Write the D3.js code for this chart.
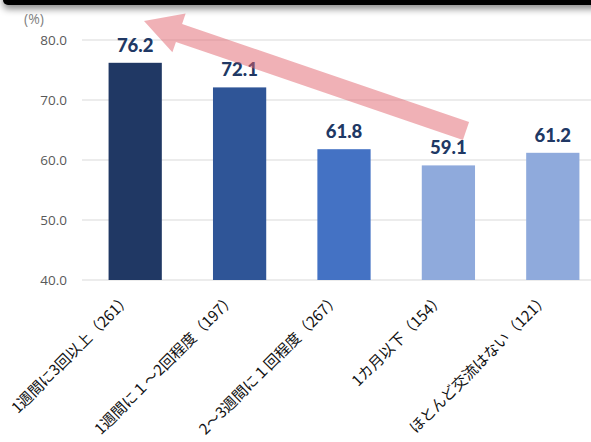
<!DOCTYPE html>
<html>
<head>
<meta charset="utf-8">
<script src="https://cdn.jsdelivr.net/npm/d3@7"></script>
<style>
  html, body { margin: 0; padding: 0; background: #fff; }
  svg { display: block; }
</style>
</head>
<body>
<svg id="chart" width="591" height="442"></svg>
<script>
// Interaction frequency groups (sample size in parentheses) and share (%)
const categories = [
  "1週間に3回以上（261）",
  "1週間に１～2回程度（197）",
  "2～3週間に１回程度（267）",
  "1カ月以下（154）",
  "ほとんど交流はない（121）"
];
const values = [76.2, 72.1, 61.8, 59.1, 61.2];
const barColors = ["#203864", "#2F5597", "#4472C4", "#8FAADC", "#8FAADC"];
const yTicks = [40, 50, 60, 70, 80];
const unitLabel = "(%)";

const svg = d3.select("#chart");
const W = 591, H = 442;

// Dark header strip with a soft shadow underneath
const defs = svg.append("defs");
const shadow = defs.append("filter").attr("id", "hdrShadow")
  .attr("x", "-5%").attr("y", "-50%").attr("width", "110%").attr("height", "300%");
shadow.append("feDropShadow").attr("dx", 0).attr("dy", 4).attr("stdDeviation", 3.5)
  .attr("flood-color", "#000").attr("flood-opacity", 0.45);

svg.append("rect")
  .attr("x", 3).attr("y", -12).attr("width", W + 20).attr("height", 17)
  .attr("rx", 5).attr("fill", "#000").attr("filter", "url(#hdrShadow)");

// Scales
const x = d3.scaleBand().domain(categories).range([83, 605]).paddingInner(0.49).paddingOuter(0.245);
const y = d3.scaleLinear().domain([40, 80]).range([280, 40]);

// Gridlines
svg.append("g").selectAll("line").data(yTicks).join("line")
  .attr("x1", 82).attr("x2", W)
  .attr("y1", d => y(d)).attr("y2", d => y(d))
  .attr("stroke", "#d9d9d9").attr("stroke-width", 1.2);

// Y axis tick labels
const yAxis = d3.axisLeft(y).tickValues(yTicks).tickFormat(d3.format(".1f")).tickSize(0).tickPadding(0);
const yg = svg.append("g").attr("transform", "translate(67,0)").call(yAxis);
yg.select(".domain").remove();
yg.selectAll("text")
  .attr("font-family", "'Open Sans', 'Noto Sans', sans-serif")
  .attr("font-size", 13.5).attr("fill", "#595959");

svg.append("text")
  .attr("x", 24).attr("y", 24)
  .attr("font-family", "'Open Sans', 'Noto Sans', sans-serif")
  .attr("font-size", 14).attr("fill", "#7f7f7f")
  .text(unitLabel);

// Bars
const rows = categories.map((c, i) => ({ c, v: values[i], color: barColors[i] }));
svg.append("g").selectAll("rect").data(rows).join("rect")
  .attr("x", d => x(d.c)).attr("width", x.bandwidth())
  .attr("y", d => y(d.v)).attr("height", d => y(40) - y(d.v))
  .attr("fill", d => d.color);

// Value labels
svg.append("g").selectAll("text").data(rows).join("text")
  .attr("x", d => x(d.c) + x.bandwidth() / 2)
  .attr("y", d => y(d.v) - 11)
  .attr("text-anchor", "middle")
  .attr("font-family", "Lato, 'Open Sans', sans-serif")
  .attr("font-weight", 900).attr("font-size", 18.5)
  .attr("fill", "#203864")
  .text(d => d.v.toFixed(1));

// Category labels, rotated 45°
svg.append("g").selectAll("text").data(rows).join("text")
  .attr("transform", d => `translate(${x(d.c) + x.bandwidth() / 2 - 3},300) rotate(-45)`)
  .attr("text-anchor", "end")
  .attr("font-family", "'Noto Sans CJK JP', sans-serif")
  .attr("font-size", 15).attr("fill", "#111")
  .text(d => d.c);

// Trend arrow from the low-frequency groups back up to the top group
const tail = [466, 131], tip = [144, 21];
const dx = tip[0] - tail[0], dy = tip[1] - tail[1];
const len = Math.hypot(dx, dy);
const ux = dx / len, uy = dy / len, nx = -uy, ny = ux;
const shaftHalf = 9.5, headHalf = 20.5, headLen = 37;
const bx = tip[0] - ux * headLen, by = tip[1] - uy * headLen;
const pts = [
  [tail[0] + nx * shaftHalf, tail[1] + ny * shaftHalf],
  [bx + nx * shaftHalf, by + ny * shaftHalf],
  [bx + nx * headHalf, by + ny * headHalf],
  tip,
  [bx - nx * headHalf, by - ny * headHalf],
  [bx - nx * shaftHalf, by - ny * shaftHalf],
  [tail[0] - nx * shaftHalf, tail[1] - ny * shaftHalf]
];
svg.append("path")
  .attr("d", d3.line()(pts) + "Z")
  .attr("fill", "rgb(225,100,110)").attr("fill-opacity", 0.5);
</script>
</body>
</html>
